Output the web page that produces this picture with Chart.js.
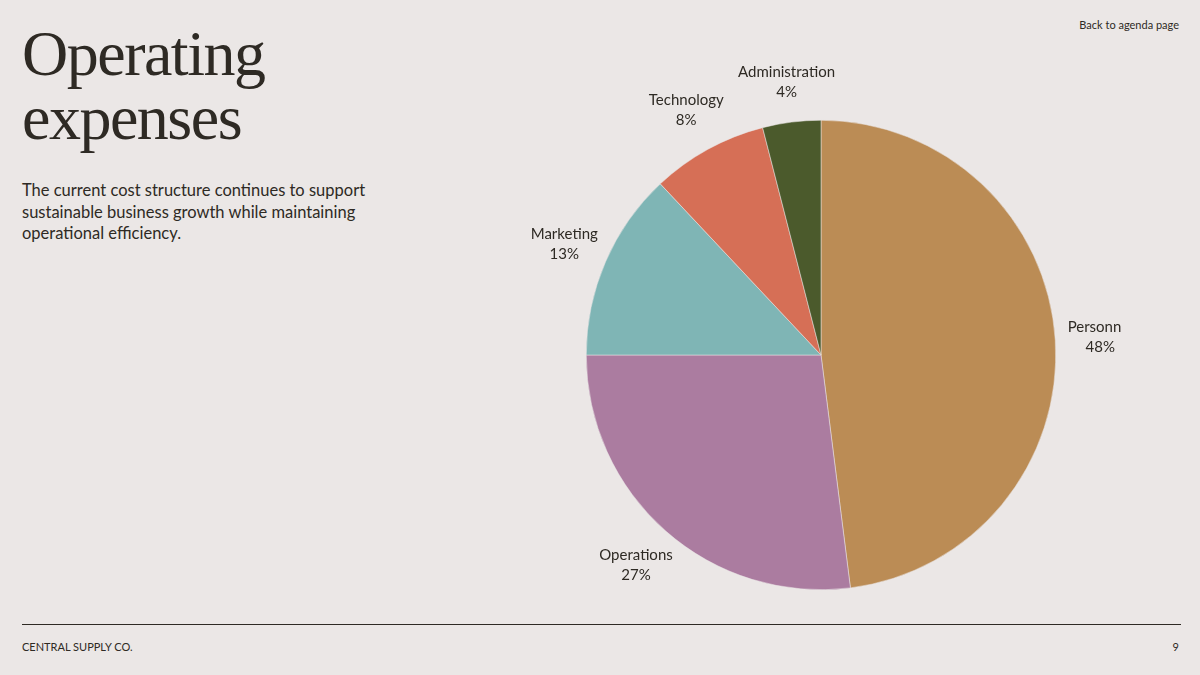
<!DOCTYPE html>
<html><head><meta charset="utf-8">
<script src="https://cdn.jsdelivr.net/npm/chart.js@4"></script>
<style>
body{margin:0;width:1200px;height:675px;background:#ebe7e6;position:relative;overflow:hidden;font-family:Lato,"Open Sans",sans-serif;color:#2e2a24}
h1{position:absolute;left:22px;top:22px;margin:0;font-family:"Liberation Serif","DejaVu Serif",serif;font-weight:400;font-size:64px;line-height:64px;letter-spacing:-1.5px;color:#2e2a24}
p{position:absolute;left:22px;top:180px;margin:0;font-size:16.5px;line-height:21.5px;width:380px}
.back{position:absolute;right:21px;top:18px;font-size:11px}
.foot{position:absolute;left:22px;top:640px;font-size:11px}
.pg{position:absolute;right:21px;top:640px;font-size:11px}
.rule{position:absolute;left:22px;right:19px;top:624px;border-top:1.2px solid #2e2a24}
#wrap{position:absolute;left:521px;top:55px;width:600px;height:600px}
</style></head><body>
<h1>Operating<br>expenses</h1>
<p>The current cost structure continues to support sustainable business growth while maintaining operational efficiency.</p>
<div class="back">Back to agenda page</div>
<div class="rule"></div>
<div class="foot">CENTRAL SUPPLY CO.</div>
<div class="pg">9</div>
<div id="wrap"><canvas id="c" width="600" height="600"></canvas></div>
<script>
const categories=["Personnel","Operations","Marketing","Technology","Administration"];
const values=[48,27,13,8,4];
const colors=["#bb8c55","#ab7ca0","#7fb5b5","#d66f56","#4b5a2c"];
const labelPlugin={id:'lbl',afterDraw(chart){
  const ctx=chart.ctx;const meta=chart.getDatasetMeta(0);
  ctx.save();ctx.fillStyle='#2e2a24';ctx.font='15px Lato, sans-serif';ctx.textAlign='center';ctx.textBaseline='middle';
  meta.data.forEach((arc,i)=>{
    const a=(arc.startAngle+arc.endAngle)/2;const r=arc.outerRadius+(i==4?40:45);
    const x=arc.x+Math.cos(a)*r, y=arc.y+Math.sin(a)*r;
    ctx.fillText(categories[i],x,y-10);ctx.fillText(values[i]+'%',x,y+10);
  });ctx.restore();}};
new Chart(document.getElementById('c'),{type:'pie',
 data:{labels:categories,datasets:[{data:values,backgroundColor:colors,borderColor:'#ebe7e6',borderWidth:0.5}]},
 options:{responsive:false,animation:false,layout:{padding:65},plugins:{legend:{display:false},tooltip:{enabled:false}}},
 plugins:[labelPlugin]});
</script>
</body></html>
